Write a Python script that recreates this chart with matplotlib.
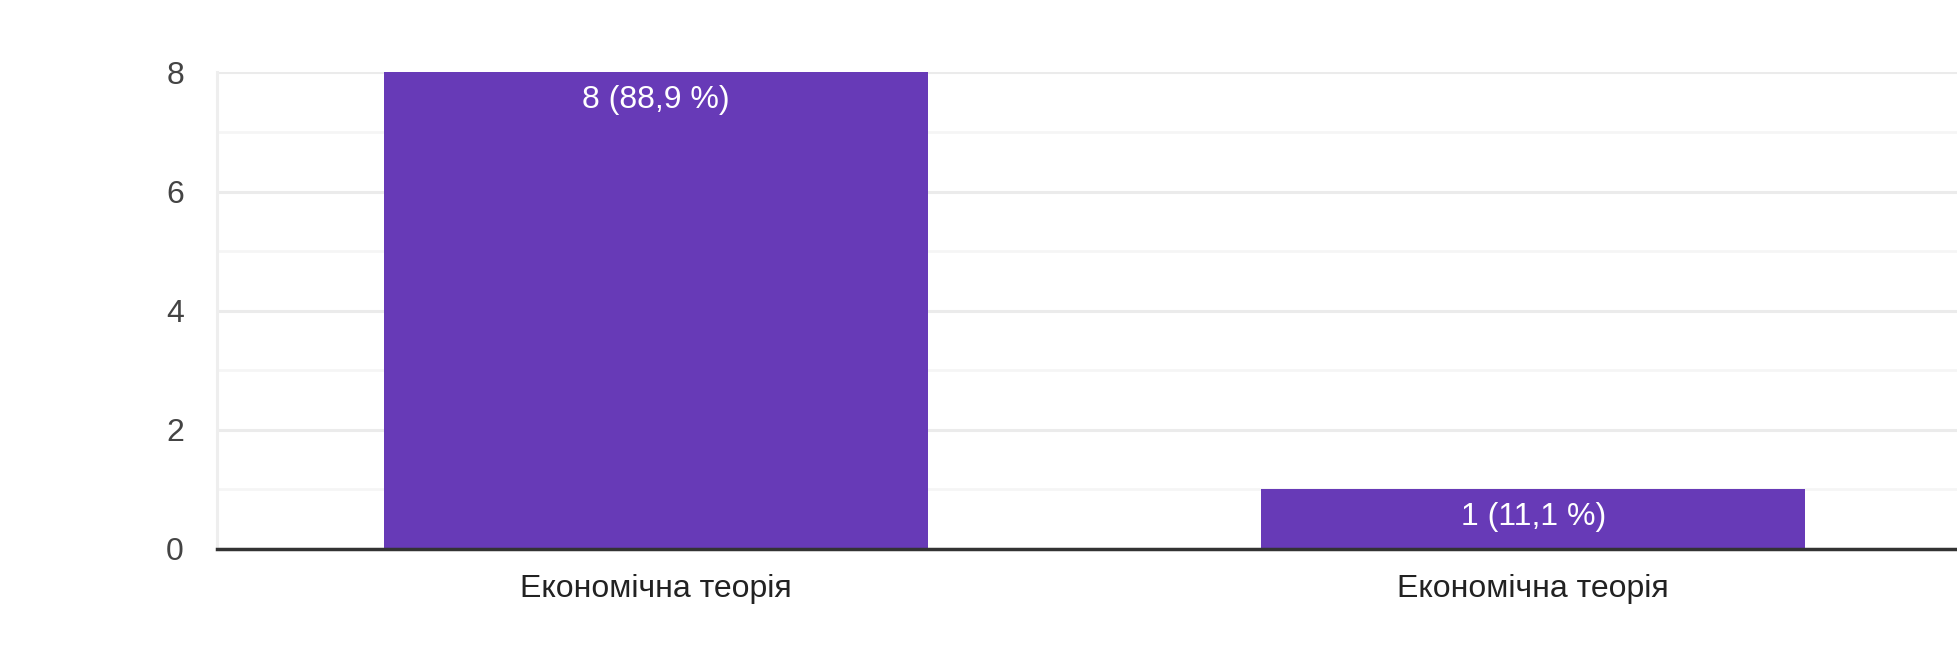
import matplotlib
matplotlib.use("Agg")
import matplotlib.pyplot as plt
from matplotlib.ticker import MultipleLocator

categories = ["Економічна теорія", "Економічна теорія"]
values = [8, 1]
labels = ["8 (88,9 %)", "1 (11,1 %)"]
yticks = [0, 2, 4, 6, 8]

plt.rcParams['font.family'] = ['Liberation Sans', 'DejaVu Sans']

fig = plt.figure(figsize=(19.57, 6.65), dpi=100)
ax = fig.add_axes([0.111, 0.1745, 0.889, 0.7165])

x = list(range(len(categories)))
bars = ax.bar(x, values, width=0.62, color="#673ab7", zorder=3)

ax.set_xlim(-0.5, 1.483)
ax.set_ylim(0, 8)
ax.set_yticks(yticks)
ax.yaxis.set_minor_locator(MultipleLocator(1))
ax.grid(axis='y', which='major', color='#ebebeb', linewidth=2.2, zorder=0)
ax.grid(axis='y', which='minor', color='#f5f5f5', linewidth=2.0, zorder=0)
ax.tick_params(axis='y', which='both', length=0, labelsize=23, labelcolor='#444444', pad=24)
ax.tick_params(axis='x', length=0, labelsize=23, labelcolor='#222222', pad=18)
ax.set_xticks(x)
ax.set_xticklabels(categories)

for s in ['top', 'right']:
    ax.spines[s].set_visible(False)
ax.spines['left'].set_color('#eeeeee')
ax.spines['left'].set_linewidth(2.2)
ax.spines['bottom'].set_color('#333333')
ax.spines['bottom'].set_linewidth(2.5)
ax.spines['bottom'].set_zorder(4)

for b, lab in zip(bars, labels):
    ax.annotate(lab, (b.get_x() + b.get_width() / 2, b.get_height()),
                xytext=(0, -9), textcoords='offset points',
                ha='center', va='top', color='white', fontsize=23, zorder=5)

fig.savefig("out.png", dpi=100, facecolor='white')
